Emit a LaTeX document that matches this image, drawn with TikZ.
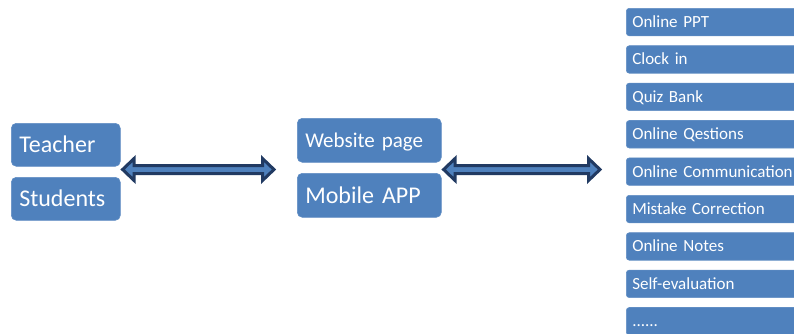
\documentclass[tikz,border=0pt]{standalone}
\usepackage{fontspec}
\setmainfont{Carlito}
\usetikzlibrary{calc}
\definecolor{boxblue}{RGB}{79,129,189}
\definecolor{arrowline}{RGB}{33,58,98}
\definecolor{arrowfill}{RGB}{79,129,189}
\tikzset{
  bluebox/.style={fill=boxblue, draw=boxblue!90!white, line width=0.6pt, text=white, anchor=north west,
    inner xsep=8pt, text depth=0pt, align=left},
  bigbox/.style={bluebox, rounded corners=5pt, minimum width=109pt, minimum height=43pt, text width=93pt},
  midbox/.style={bluebox, rounded corners=5pt, minimum width=144pt, minimum height=44pt, text width=128pt},
  bigfont/.style={font=\fontsize{24}{28}\selectfont, text height=15.5pt},
  midfont/.style={font=\fontsize{21}{25}\selectfont, text height=13.5pt},
  listbox/.style={bluebox, rounded corners=3pt, minimum width=200pt, minimum height=27.5pt, text width=188pt,
    inner xsep=6pt, font=\fontsize{17}{20}\selectfont, text height=11pt},
  dblarrow/.style={fill=arrowfill, draw=arrowline, line width=3pt, line join=miter}
}
\newcommand{\mydblarrow}[2]{%
  \path[dblarrow] ($(#1)+(2,0)$) -- ++(11.5,-11) -- ++(0,7) -- ($(#2)+(-13.5,-4)$) -- ++(0,-7) -- ($(#2)+(-2,0)$)
    -- ++(-11.5,11) -- ++(0,-7) -- ($(#1)+(13.5,4)$) -- ++(0,7) -- cycle;
}
\begin{document}
\begin{tikzpicture}[x=1pt,y=-1pt]
\useasboundingbox (0,0) rectangle (794,333);
\begin{scope}
\clip (0,0) rectangle (794,333);
\node[bigbox, bigfont] (teacher) at (11,123) {Teacher};
\node[bigbox, bigfont] (students) at (11,177) {Students};
\node[midbox, midfont] (web) at (297,118) {Website page};
\node[midbox, bigfont] (app) at (297,173) {Mobile APP};
\foreach \t [count=\i from 0] in {Online PPT, Clock in, Quiz Bank, Online Qestions, Online Communication,
  Mistake Correction, Online Notes, Self-evaluation}{
  \node[listbox] (f\i) at (626, 8+37.4*\i) {\t};
}
\node[listbox] (f8) at (626, 8+37.4*8) {......};
\coordinate (a1s) at (teacher.east |- 0,169.5);
\coordinate (a1e) at ($(web.west |- a1s)+(-21,0)$);
\coordinate (a2s) at (web.east |- 0,169.5);
\coordinate (a2e) at ($(f4.west |- a2s)+(-24,0)$);
\mydblarrow{a1s}{a1e}
\mydblarrow{a2s}{a2e}
\end{scope}
\end{tikzpicture}
\end{document}
